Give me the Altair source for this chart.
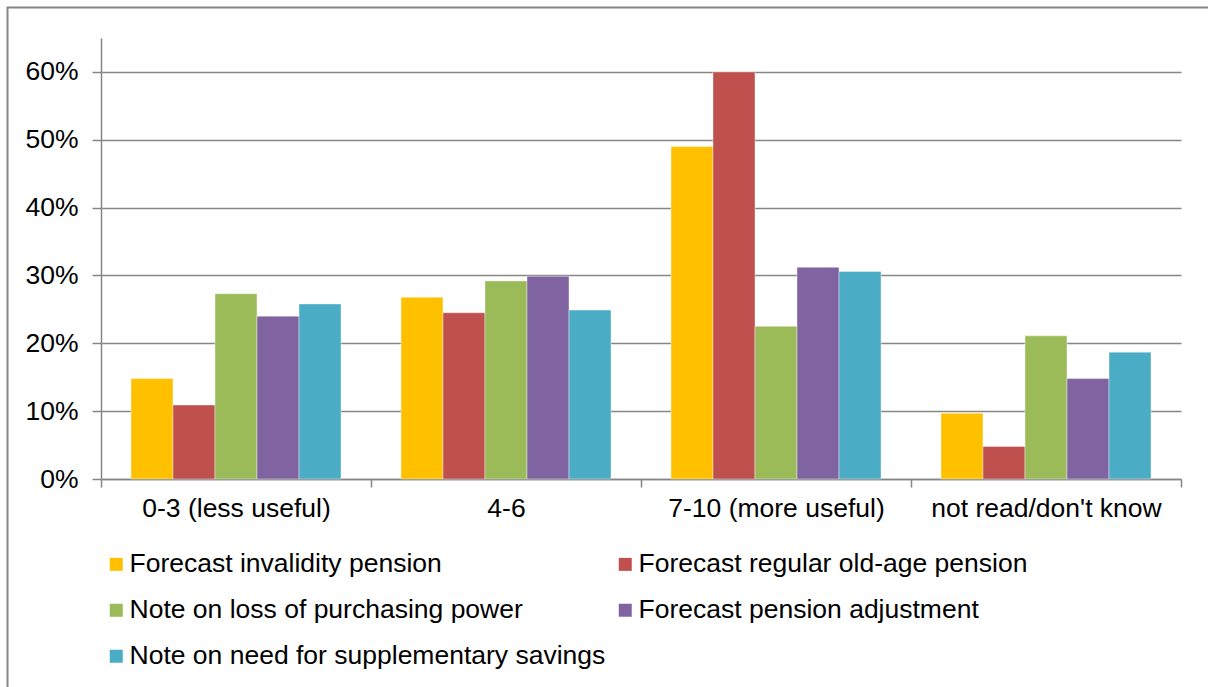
import altair as alt
import pandas as pd

categories = ["0-3 (less useful)", "4-6", "7-10 (more useful)", "not read/don't know"]
series = [
    "Forecast invalidity pension",
    "Forecast regular old-age pension",
    "Note on loss of purchasing power",
    "Forecast pension adjustment",
    "Note on need for supplementary savings",
]
colors = ["#FFC000", "#C0504D", "#9BBB59", "#8064A2", "#4BACC6"]

invalidity = [0.148, 0.268, 0.490, 0.097]
old_age = [0.109, 0.245, 0.600, 0.048]
purchasing = [0.273, 0.292, 0.225, 0.211]
adjustment = [0.240, 0.299, 0.312, 0.148]
savings = [0.258, 0.249, 0.306, 0.187]

values = [invalidity, old_age, purchasing, adjustment, savings]
rows = []
for s, vals in zip(series, values):
    for c, v in zip(categories, vals):
        rows.append({"category": c, "series": s, "value": v})
df = pd.DataFrame(rows)

FONT = "Liberation Sans"
GRAY = "#868686"
FS = 26.5

bars = alt.Chart(df).mark_bar(stroke="white", strokeWidth=0.4).encode(
    x=alt.X("category:N", sort=categories, title=None,
            scale=alt.Scale(paddingInner=0, paddingOuter=0),
            axis=alt.Axis(labelAngle=0, tickBand="extent", tickSize=8, tickColor=GRAY,
                          domainColor=GRAY, domainWidth=1.5, tickWidth=1.5,
                          labelFontSize=FS, labelFont=FONT, labelColor="#000000",
                          labelPadding=8, labelLimit=400, grid=False)),
    xOffset=alt.XOffset("series:N", sort=series,
                        scale=alt.Scale(paddingInner=0, paddingOuter=0.714)),
    y=alt.Y("value:Q", title=None,
            scale=alt.Scale(domain=[0, 0.65], nice=False),
            axis=alt.Axis(format=".0%", values=[0, 0.1, 0.2, 0.3, 0.4, 0.5, 0.6],
                          tickSize=9, tickColor=GRAY, tickWidth=1.5,
                          domainColor=GRAY, domainWidth=1.5,
                          grid=True, gridColor=GRAY, gridWidth=1.5,
                          labelFontSize=FS, labelFont=FONT, labelColor="#000000",
                          labelPadding=14)),
    color=alt.Color("series:N", sort=series, title=None,
                    scale=alt.Scale(domain=series, range=colors),
                    legend=alt.Legend(orient="none", legendX=2, legendY=513, columns=2,
                                      direction="horizontal",
                                      symbolType="square", symbolSize=169,
                                      symbolStrokeWidth=0, labelFontSize=FS,
                                      labelFont=FONT, labelColor="#000000",
                                      labelOffset=0, rowPadding=19, columnPadding=6,
                                      padding=0, labelLimit=700)),
)

frame = alt.Chart(pd.DataFrame({"a": [0]})).mark_rect(
    fill=None, stroke=GRAY, strokeWidth=2
).encode(
    x=alt.value(-93.5), y=alt.value(-30.5), x2=alt.value(1300), y2=alt.value(800)
)

chart = alt.layer(frame, bars).properties(
    width=1080, height=441,
    autosize=alt.AutoSizeParams(type="none"),
    padding={"left": 101, "top": 38, "right": 27, "bottom": 208},
    background="white",
).configure_view(stroke=None)

chart.save("out.html", embed_options={"renderer": "svg", "actions": False})
